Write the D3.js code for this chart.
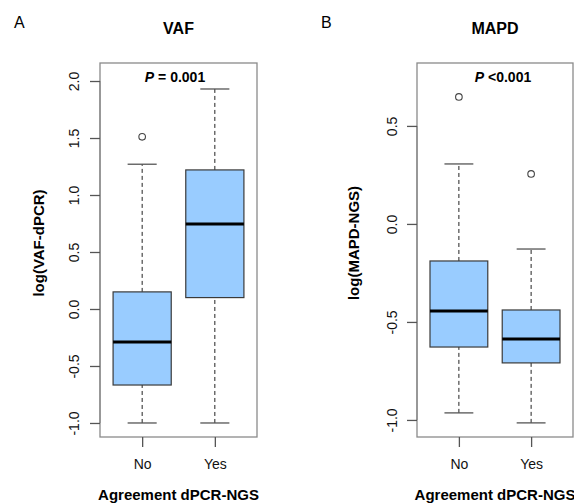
<!DOCTYPE html>
<html><head><meta charset="utf-8">
<script src="https://cdn.jsdelivr.net/npm/d3@7"></script>
<style>
html,body{margin:0;padding:0;background:#fff;}
svg{display:block;font-family:"Liberation Sans",Arial,sans-serif;}
</style></head><body>
<svg id="chart" width="574" height="504"></svg>
<script>
const categories = ["No", "Yes"];
// [lower whisker, Q1, median, Q3, upper whisker]
const vafStats = [[-1.0, -0.667, -0.29, 0.15, 1.27], [-1.0, 0.10, 0.745, 1.22, 1.93]];
const vafOutliers = [[1.51], []];
const mapdStats = [[-0.964, -0.628, -0.444, -0.189, 0.306], [-1.015, -0.709, -0.587, -0.439, -0.128]];
const mapdOutliers = [[0.648], [0.255]];
const vafTicks = [-1.0, -0.5, 0.0, 0.5, 1.0, 1.5, 2.0];
const mapdTicks = [-1.0, -0.5, 0.0, 0.5];
const vafDomain = [-1.123, 2.158];
const mapdDomain = [-1.087, 0.821];

const svg = d3.select("#chart");

const panels = [
  {letter: "A", title: "VAF", ptext: "= 0.001", ylab: "log(VAF-dPCR)", stats: vafStats, outliers: vafOutliers,
   ticks: vafTicks, domain: vafDomain, left: 100, right: 257, letterX: 14, tickLabX: 79, ylabX: 44, pCenter: 175},
  {letter: "B", title: "MAPD", ptext: "<0.001", ylab: "log(MAPD-NGS)", stats: mapdStats, outliers: mapdOutliers,
   ticks: mapdTicks, domain: mapdDomain, left: 417, right: 573, letterX: 321, tickLabX: 397, ylabX: 359, pCenter: 503}
];
const plotTop = 63, plotBottom = 437;

panels.forEach(p => {
  const g = svg.append("g");
  const x = d3.scaleLinear().domain([0.42, 2.58]).range([p.left, p.right]);
  const y = d3.scaleLinear().domain(p.domain).range([plotBottom, plotTop]);
  const cx = (p.left + p.right) / 2;

  g.append("text").attr("x", p.letterX).attr("y", 28).attr("font-size", 16).text(p.letter);
  g.append("text").attr("x", cx).attr("y", 34).attr("text-anchor", "middle")
    .attr("font-size", 16).attr("font-weight", "bold").text(p.title);

  g.append("rect").attr("x", p.left).attr("y", plotTop).attr("width", p.right - p.left).attr("height", plotBottom - plotTop)
    .attr("fill", "none").attr("stroke", "#8a8a8a").attr("stroke-width", 1.3);

  const yAxis = d3.axisLeft(y).tickValues(p.ticks).tickSize(10).tickFormat(v => v.toFixed(1));
  const ya = g.append("g").attr("transform", `translate(${p.left},0)`).call(yAxis);
  ya.select(".domain").attr("stroke", "#8a8a8a").attr("stroke-width", 1.3)
    .attr("d", `M0,${y(p.ticks[0])}V${y(p.ticks[p.ticks.length - 1])}`);
  ya.selectAll(".tick line").attr("stroke", "#555").attr("stroke-width", 1.3);
  ya.selectAll(".tick text").attr("font-size", 14).attr("font-family", "Liberation Sans, Arial, sans-serif")
    .attr("fill", "#111")
    .attr("x", null).attr("dy", null)
    .attr("transform", `translate(${p.tickLabX - p.left},0) rotate(-90)`)
    .attr("text-anchor", "middle");

  const xAxis = d3.axisBottom(x).tickValues([1, 2]).tickSize(10).tickFormat(i => categories[i - 1]);
  const xa = g.append("g").attr("transform", `translate(0,${plotBottom})`).call(xAxis);
  xa.select(".domain").remove();
  xa.selectAll(".tick line").attr("stroke", "#555").attr("stroke-width", 1.3);
  xa.selectAll(".tick text").attr("font-size", 14).attr("font-family", "Liberation Sans, Arial, sans-serif")
    .attr("fill", "#111").attr("dy", null).attr("y", 32);

  g.append("text").attr("transform", `translate(${p.ylabX},243) rotate(-90)`)
    .attr("text-anchor", "middle").attr("font-size", 15).attr("font-weight", "bold").text(p.ylab);
  g.append("text").attr("x", cx).attr("y", 500).attr("text-anchor", "middle")
    .attr("font-size", 15).attr("font-weight", "bold").text("Agreement dPCR-NGS");

  const pt = g.append("text").attr("x", p.pCenter).attr("y", 82).attr("text-anchor", "middle")
    .attr("font-size", 14).attr("font-weight", "bold");
  pt.append("tspan").attr("font-style", "italic").text("P");
  pt.append("tspan").text(" " + p.ptext);

  const bw = 0.8, cw = 0.4;
  p.stats.forEach((s, i) => {
    const c = i + 1;
    const bx = g.append("g");
    bx.append("line").attr("x1", x(c)).attr("x2", x(c)).attr("y1", y(s[0])).attr("y2", y(s[1]))
      .attr("stroke", "#222").attr("stroke-dasharray", "4,3").attr("stroke-width", 1);
    bx.append("line").attr("x1", x(c)).attr("x2", x(c)).attr("y1", y(s[3])).attr("y2", y(s[4]))
      .attr("stroke", "#222").attr("stroke-dasharray", "4,3").attr("stroke-width", 1);
    [s[0], s[4]].forEach(v => {
      bx.append("line").attr("x1", x(c - cw / 2)).attr("x2", x(c + cw / 2)).attr("y1", y(v)).attr("y2", y(v))
        .attr("stroke", "#555").attr("stroke-width", 1.3);
    });
    bx.append("rect").attr("x", x(c - bw / 2)).attr("width", x(c + bw / 2) - x(c - bw / 2))
      .attr("y", y(s[3])).attr("height", y(s[1]) - y(s[3]))
      .attr("fill", "#99ccff").attr("stroke", "#3a3a3a").attr("stroke-width", 1.2);
    bx.append("line").attr("x1", x(c - bw / 2)).attr("x2", x(c + bw / 2)).attr("y1", y(s[2])).attr("y2", y(s[2]))
      .attr("stroke", "#000").attr("stroke-width", 3);
    p.outliers[i].forEach(v => {
      bx.append("circle").attr("cx", x(c)).attr("cy", y(v)).attr("r", 3.3)
        .attr("fill", "none").attr("stroke", "#444").attr("stroke-width", 1.1);
    });
  });
});
</script>
</body></html>
